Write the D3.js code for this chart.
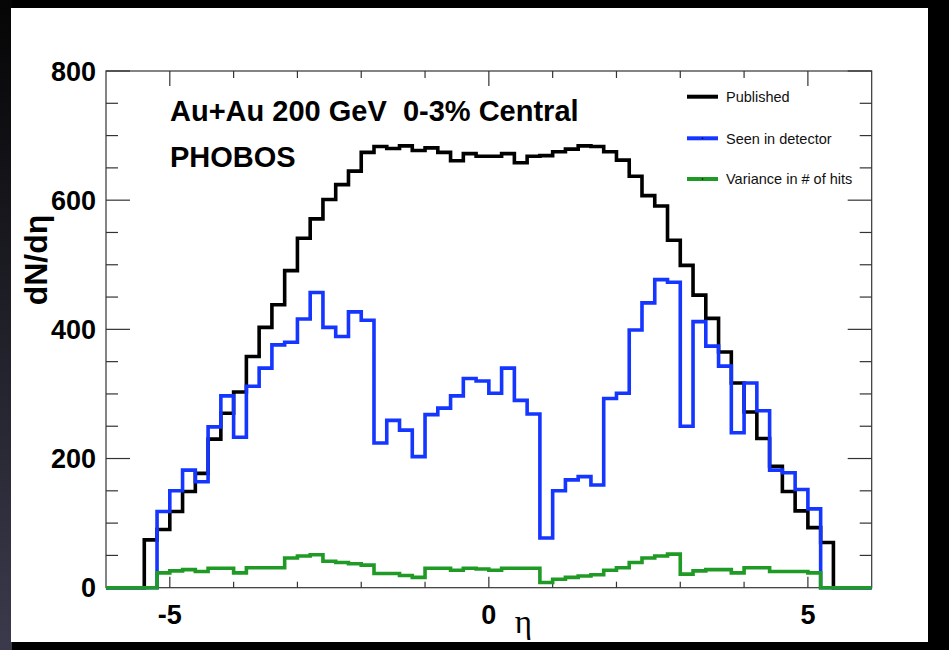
<!DOCTYPE html>
<html><head><meta charset="utf-8">
<script src="https://cdn.jsdelivr.net/npm/d3@7"></script>
<style>html,body{margin:0;padding:0;background:#000;}svg{display:block;}</style>
</head><body>
<svg id="c" width="949" height="650"></svg>
<script>
// ---- data ----
const binWidth = 0.2;
const publishedStart = -5.4;
const published = [74, 90, 118, 149, 177, 230, 270, 303, 358, 403, 438, 491, 541, 571, 601, 624, 645, 674, 683, 680, 684, 677, 681, 674, 661, 672, 668,
                   668, 672, 658, 668, 669, 675, 679, 684, 683, 675, 662, 637, 607, 591, 538, 499, 453, 417, 365, 317, 272, 231, 188, 149, 119, 93, 70];
const seenStart = -5.2;
const seen = [118, 150, 182, 164, 249, 297, 233, 312, 340, 376, 380, 416, 457, 403, 389, 427, 414, 224, 259, 244, 203, 268, 278, 297, 324, 320,
              301, 340, 290, 269, 77, 150, 167, 172, 159, 293, 301, 399, 441, 477, 473, 250, 412, 374, 343, 240, 317, 274, 182, 178, 152, 122];
const varianceStart = -5.2;
const variance = [23, 26, 28, 25, 30, 30, 23, 31, 31, 31, 46, 49, 51, 41, 39, 37, 35, 22, 22, 19, 16, 30, 30, 27, 30, 29,
                  27, 30, 30, 30, 8, 13, 16, 18, 20, 27, 31, 39, 46, 49, 52, 21, 26, 28, 28, 23, 31, 31, 25, 25, 25, 23];
const xDomain = [-6, 6];
const yDomain = [0, 800];
const xMajorTicks = [-5, 0, 5];
const xMinorTicks = [-4, -3, -2, -1, 1, 2, 3, 4];
const yMajorTicks = [0, 200, 400, 600, 800];
const yMinorStep = 50;
const legendLabels = ["Published", "Seen in detector", "Variance in # of hits"];
const colors = ["#000000", "#1436ff", "#1f9a24"];

// ---- drawing ----
const svg = d3.select("#c");
const W = 949, H = 650;
const defs = svg.append("defs");
const lg = defs.append("linearGradient").attr("id","lg").attr("x1",0).attr("y1",0).attr("x2",0).attr("y2",1);
lg.append("stop").attr("offset","0%").attr("stop-color","#050505");
lg.append("stop").attr("offset","100%").attr("stop-color","#3a3a4c");
svg.append("rect").attr("width",W).attr("height",H).attr("fill","#000");
svg.append("rect").attr("x",0).attr("y",0).attr("width",12).attr("height",H).attr("fill","url(#lg)");
svg.append("rect").attr("x",11).attr("y",8).attr("width",917).attr("height",634).attr("fill","#fff");

const L = 106, R = 871.7, T = 71, B = 587.7;
const x = d3.scaleLinear().domain(xDomain).range([L, R]);
const y = d3.scaleLinear().domain(yDomain).range([B, T]);

const g = svg.append("g");
g.append("rect").attr("x",L).attr("y",T).attr("width",R-L).attr("height",B-T)
  .attr("fill","none").attr("stroke","#333").attr("stroke-width",1.2);

const tk = g.append("g").attr("stroke","#333").attr("stroke-width",1.2);
const yMinor = d3.range(yDomain[0], yDomain[1] + 1, yMinorStep);
yMinor.forEach(v => {
  const major = yMajorTicks.includes(v);
  const len = major ? 24 : 12;
  tk.append("line").attr("x1",L).attr("x2",L+len).attr("y1",y(v)).attr("y2",y(v));
  tk.append("line").attr("x1",R).attr("x2",R-len).attr("y1",y(v)).attr("y2",y(v));
});
xMajorTicks.concat(xMinorTicks).forEach(v => {
  const major = xMajorTicks.includes(v);
  tk.append("line").attr("x1",x(v)).attr("x2",x(v)).attr("y1",B).attr("y2",B-(major?11:6));
  tk.append("line").attr("x1",x(v)).attr("x2",x(v)).attr("y1",T).attr("y2",T+(major?15:7));
});

const lblFont = "'Liberation Sans', Arial, sans-serif";
g.selectAll(".yl").data(yMajorTicks).enter().append("text")
  .attr("x", L-10).attr("y", d => y(d)).attr("dy","0.36em")
  .attr("text-anchor","end").attr("font-family",lblFont).attr("font-weight","bold")
  .attr("font-size",27).text(d => d);
g.selectAll(".xl").data(xMajorTicks).enter().append("text")
  .attr("x", d => x(d)).attr("y", B+36)
  .attr("text-anchor","middle").attr("font-family",lblFont).attr("font-weight","bold")
  .attr("font-size",27).text(d => String(d));

g.append("text").attr("x", x(0.54)).attr("y", 633).attr("text-anchor","middle")
  .attr("font-family","'Liberation Serif','DejaVu Serif',serif").attr("font-size",33).text("η");
g.append("text").attr("transform","translate(47,260) rotate(-90)").attr("text-anchor","middle")
  .attr("font-family",lblFont).attr("font-weight","bold").attr("font-size",32).text("dN/dη");

function histPoints(start, vals) {
  const pts = [];
  const nLead = Math.round((start - xDomain[0]) / binWidth);
  for (let i = 0; i < nLead; i++) pts.push([xDomain[0] + i*binWidth, 0]);
  vals.forEach((v,i) => pts.push([start + i*binWidth, v]));
  let e = start + vals.length*binWidth;
  while (e < xDomain[1] - 1e-6) { pts.push([e, 0]); e += binWidth; }
  pts.push([xDomain[1], 0]);
  return pts;
}
const line = d3.line().x(d => x(d[0])).y(d => y(d[1])).curve(d3.curveStepAfter);
const series = [[publishedStart, published], [seenStart, seen], [varianceStart, variance]];
series.forEach((s, i) => {
  g.append("path").attr("d", line(histPoints(s[0], s[1])))
    .attr("fill","none").attr("stroke",colors[i]).attr("stroke-width",3.6)
    .attr("stroke-linejoin","miter");
});

g.append("text").attr("x",170).attr("y",121).attr("font-family",lblFont).attr("font-weight","bold")
  .attr("font-size",29).style("white-space","pre").text("Au+Au 200 GeV  0-3% Central");
g.append("text").attr("x",170).attr("y",167).attr("font-family",lblFont).attr("font-weight","bold")
  .attr("font-size",29).text("PHOBOS");

const legY = [96.7, 138.3, 179];
legendLabels.forEach((t, i) => {
  g.append("line").attr("x1",687).attr("x2",718).attr("y1",legY[i]).attr("y2",legY[i])
    .attr("stroke",colors[i]).attr("stroke-width",4);
  if (i > 0) g.append("circle").attr("cx",702.5).attr("cy",legY[i]).attr("r",0.8).attr("fill","#000");
  g.append("text").attr("x",726).attr("y",legY[i]).attr("dy","0.36em")
    .attr("font-family",lblFont).attr("font-size",14.5).attr("fill","#111").text(t);
});
</script>
</body></html>
